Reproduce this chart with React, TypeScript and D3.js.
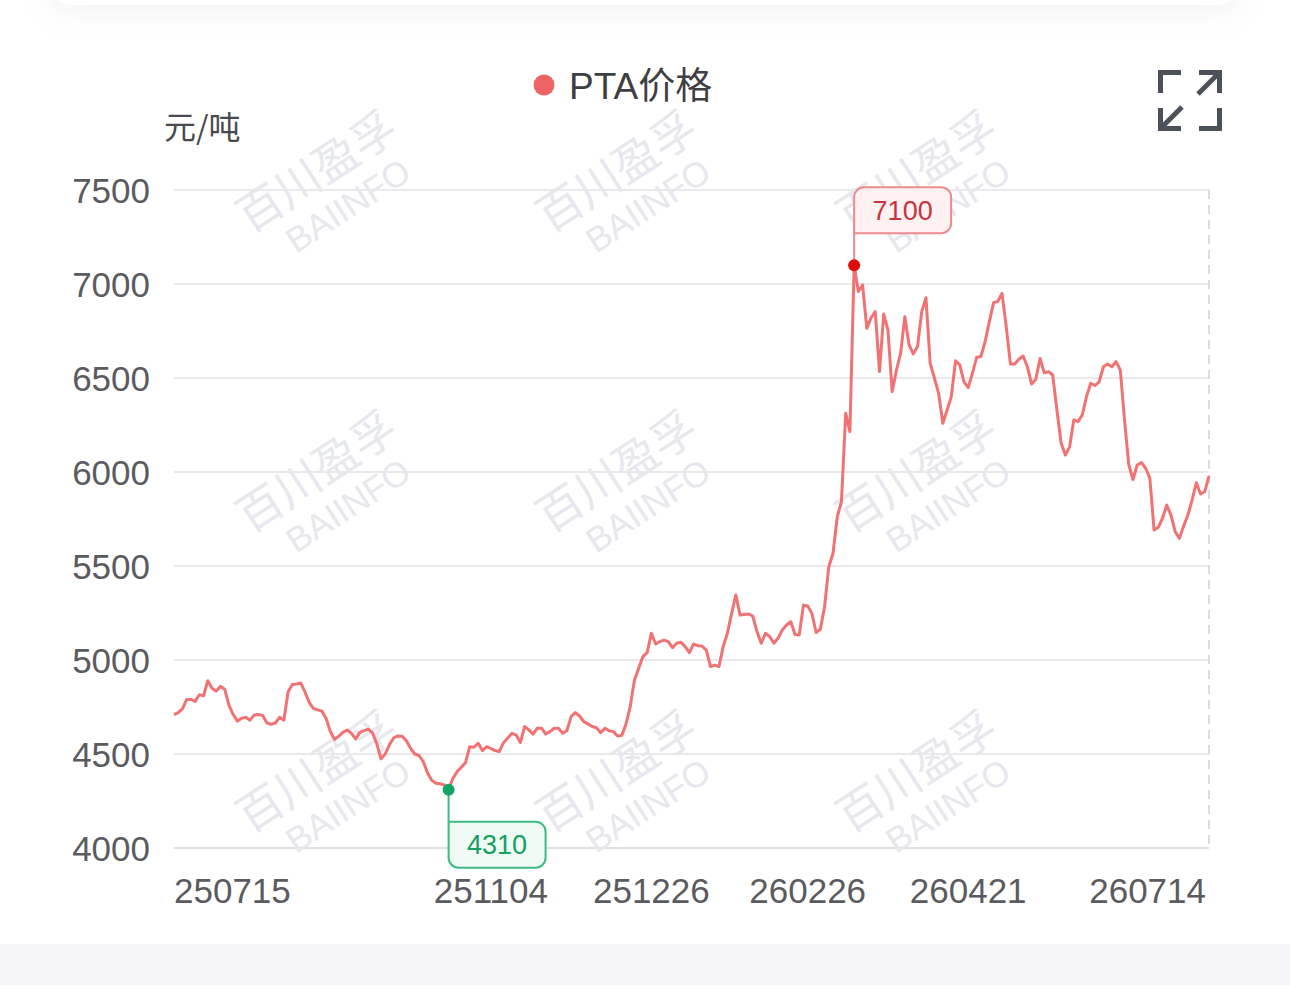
import React, { useEffect, useRef } from 'react';
import * as d3 from 'd3';

// PTA daily price, 元/吨
const prices: number[] = [
  4710, 4720, 4740, 4790, 4790, 4780, 4815, 4810, 4890, 4850,
  4835, 4860, 4845, 4760, 4710, 4675, 4690, 4695, 4680, 4708,
  4710, 4705, 4665, 4658, 4665, 4695, 4680, 4830, 4870, 4872,
  4878, 4830, 4775, 4742, 4735, 4728, 4690, 4620, 4578, 4595,
  4615, 4628, 4610, 4580, 4615, 4624, 4632, 4612, 4555, 4474,
  4500, 4550, 4585, 4596, 4594, 4570, 4530, 4500, 4492, 4460,
  4400, 4360, 4345, 4342, 4335, 4310, 4370, 4405, 4430, 4454,
  4539, 4536, 4557, 4518, 4539, 4530, 4518, 4513, 4560, 4585,
  4610, 4601, 4561, 4646, 4628, 4606, 4637, 4637, 4606, 4619,
  4637, 4637, 4610, 4624, 4699, 4720, 4702, 4672, 4660, 4646,
  4640, 4613, 4637, 4624, 4619, 4596, 4599, 4660, 4752, 4894,
  4956, 5018, 5039, 5142, 5085, 5098, 5106, 5098, 5066, 5089,
  5094, 5071, 5039, 5085, 5076, 5074, 5053, 4965, 4973, 4965,
  5071, 5142, 5248, 5346, 5239, 5242, 5245, 5234, 5151, 5089,
  5142, 5125, 5089, 5117, 5160, 5186, 5204, 5136, 5133, 5292,
  5287, 5248, 5146, 5164, 5283, 5496, 5568, 5762, 5843, 6312,
  6215, 7100, 6960, 6995, 6764, 6820, 6853, 6534, 6840, 6755,
  6427, 6540, 6631, 6826, 6676, 6628, 6667, 6853, 6927, 6578,
  6500, 6418, 6259, 6330, 6401, 6592, 6570, 6480, 6449, 6525,
  6610, 6614, 6693, 6800, 6901, 6907, 6950, 6773, 6574, 6574,
  6600, 6617, 6560, 6468, 6493, 6604, 6528, 6534, 6516, 6330,
  6153, 6090, 6134, 6277, 6268, 6303, 6401, 6472, 6460, 6480,
  6560, 6574, 6560, 6587, 6543, 6277, 6040, 5960, 6037, 6050,
  6020, 5967, 5691, 5706, 5754, 5824, 5771, 5682, 5647, 5713,
  5771, 5851, 5943, 5883, 5896, 5979,
];

// x-axis labels and the day index they sit on
const dateLabels: string[] = ['250715', '251104', '251226', '260226', '260421', '260714'];
const dateIndex: number[] = [0, 75, 113, 150, 188, 245];

const yTicks: number[] = [4000, 4500, 5000, 5500, 6000, 6500, 7000, 7500];

const seriesName = 'PTA价格';
const unitLabel = '元/吨';
const watermarkCn = '百川盈孚';
const watermarkEn = 'BAIINFO';

const W = 1290;
const H = 1002;
const FONT = '"Liberation Sans", "Noto Sans CJK SC", sans-serif';

const App: React.FC = () => {
  const svgRef = useRef<SVGSVGElement>(null);

  useEffect(() => {
    if (!svgRef.current) return;
    const svg = d3.select(svgRef.current);
    svg.selectAll('*').remove();

    const margin = { top: 190, right: 81, bottom: 154, left: 174 };
    const x = d3.scaleLinear()
      .domain([0, prices.length - 1])
      .range([margin.left, W - margin.right]);
    const y = d3.scaleLinear()
      .domain([4000, 7500])
      .range([H - margin.bottom, margin.top]);

    const defs = svg.append('defs');
    const shadow = defs.append('filter')
      .attr('id', 'card-shadow')
      .attr('x', '-10%').attr('y', '-50%')
      .attr('width', '120%').attr('height', '250%');
    shadow.append('feDropShadow')
      .attr('dx', 0).attr('dy', 8)
      .attr('stdDeviation', 14)
      .attr('flood-color', '#9aa0b0')
      .attr('flood-opacity', 0.12);

    // page background
    svg.append('rect').attr('width', W).attr('height', H).attr('fill', '#ffffff');
    // bottom of the card above
    svg.append('rect')
      .attr('x', 50).attr('y', -40)
      .attr('width', 1190).attr('height', 45)
      .attr('rx', 22)
      .attr('fill', '#ffffff')
      .attr('filter', 'url(#card-shadow)');
    // grey band under the chart
    svg.append('rect')
      .attr('x', 0).attr('y', 944)
      .attr('width', W).attr('height', 41)
      .attr('fill', '#f5f5f7');

    // grid lines
    svg.append('g')
      .selectAll('line')
      .data(yTicks)
      .join('line')
      .attr('x1', x(0))
      .attr('x2', x(prices.length - 1))
      .attr('y1', d => y(d))
      .attr('y2', d => y(d))
      .attr('stroke', d => (d === 4000 ? '#e0e0e2' : '#e9e9eb'))
      .attr('stroke-width', 2);

    // dashed right boundary
    svg.append('line')
      .attr('x1', x(prices.length - 1))
      .attr('x2', x(prices.length - 1))
      .attr('y1', y(7500))
      .attr('y2', y(4000))
      .attr('stroke', '#dcdcde')
      .attr('stroke-width', 2)
      .attr('stroke-dasharray', '9,6');

    // watermarks
    const wm = svg.append('g').attr('pointer-events', 'none');
    for (let r = 0; r < 3; r++) {
      for (let c = 0; c < 3; c++) {
        const ox = 250 + c * 300;
        const oy = 234 + r * 300;
        wm.append('text')
          .attr('transform', `translate(${ox},${oy}) rotate(-33)`)
          .attr('font-family', '"Noto Sans CJK SC", sans-serif')
          .attr('font-size', 45)
          .attr('fill', '#e6e8ed')
          .text(watermarkCn);
        wm.append('text')
          .attr('transform', `translate(${ox + 46},${oy + 20}) rotate(-33)`)
          .attr('font-family', FONT)
          .attr('font-size', 35)
          .attr('fill', '#e6e8ed')
          .text(watermarkEn);
      }
    }

    // y-axis labels
    svg.append('g')
      .selectAll('text')
      .data(yTicks)
      .join('text')
      .attr('x', 150)
      .attr('y', d => y(d))
      .attr('dy', '0.36em')
      .attr('text-anchor', 'end')
      .attr('font-family', FONT)
      .attr('font-size', 35)
      .attr('fill', '#5b5b5f')
      .text(d => d);

    // x-axis labels, first and last pinned to the plot edges
    svg.append('g')
      .selectAll('text')
      .data(dateLabels)
      .join('text')
      .attr('x', (d, i) => x(dateIndex[i]) - (i === dateLabels.length - 1 ? 3 : 0))
      .attr('y', 903)
      .attr('text-anchor', (d, i) => (i === 0 ? 'start' : i === dateLabels.length - 1 ? 'end' : 'middle'))
      .attr('font-family', FONT)
      .attr('font-size', 35)
      .attr('fill', '#5b5b5f')
      .text(d => d);

    // unit
    svg.append('text')
      .attr('x', 164)
      .attr('y', 139)
      .attr('font-family', '"Noto Sans CJK SC", sans-serif')
      .attr('font-size', 32)
      .attr('fill', '#4a4a4e')
      .text(unitLabel);

    // legend
    svg.append('circle')
      .attr('cx', 544).attr('cy', 85).attr('r', 10.5)
      .attr('fill', '#ee6464');
    svg.append('text')
      .attr('x', 569)
      .attr('y', 99)
      .attr('font-family', FONT)
      .attr('font-size', 37)
      .attr('fill', '#3f3f43')
      .text(seriesName);

    // price line
    const line = d3.line<number>()
      .x((d, i) => x(i))
      .y(d => y(d));
    svg.append('path')
      .datum(prices)
      .attr('fill', 'none')
      .attr('stroke', '#f07272')
      .attr('stroke-width', 3)
      .attr('stroke-linejoin', 'round')
      .attr('d', line);

    // min / max markers
    const maxIdx = d3.maxIndex(prices);
    const minIdx = d3.minIndex(prices);

    const boxPath = (bx: number, by: number, bw: number, bh: number, rr: number[]) => {
      const [tl, tr, br, bl] = rr;
      return `M${bx + tl},${by}H${bx + bw - tr}A${tr},${tr} 0 0 1 ${bx + bw},${by + tr}` +
        `V${by + bh - br}A${br},${br} 0 0 1 ${bx + bw - br},${by + bh}` +
        `H${bx + bl}A${bl},${bl} 0 0 1 ${bx},${by + bh - bl}` +
        `V${by + tl}A${tl},${tl} 0 0 1 ${bx + tl},${by}Z`;
    };

    const drawMark = (idx: number, above: boolean, stroke: string, fill: string, dot: string, txt: string) => {
      const px = x(idx);
      const py = y(prices[idx]);
      const bw = 97;
      const bh = 46;
      const gap = 32;
      const by = above ? py - gap - bh : py + gap;
      const g = svg.append('g');
      g.append('line')
        .attr('x1', px).attr('x2', px)
        .attr('y1', py)
        .attr('y2', above ? py - gap : py + gap)
        .attr('stroke', stroke)
        .attr('stroke-width', 2);
      g.append('path')
        .attr('d', boxPath(px, by, bw, bh, above ? [10, 10, 10, 0] : [0, 10, 10, 10]))
        .attr('fill', fill)
        .attr('stroke', stroke)
        .attr('stroke-width', 2);
      g.append('text')
        .attr('x', px + bw / 2)
        .attr('y', by + bh / 2)
        .attr('dy', '0.36em')
        .attr('text-anchor', 'middle')
        .attr('font-family', FONT)
        .attr('font-size', 27)
        .attr('fill', txt)
        .text(prices[idx]);
      g.append('circle')
        .attr('cx', px).attr('cy', py).attr('r', 6)
        .attr('fill', dot);
    };

    drawMark(maxIdx, true, '#ec8a8f', '#fdf1f1', '#dd0a0a', '#c8343c');
    drawMark(minIdx, false, '#3dbb83', '#effaf5', '#13a563', '#15a05f');

    // expand icon
    const icon = svg.append('g')
      .attr('fill', 'none')
      .attr('stroke', '#4c5058')
      .attr('stroke-width', 5)
      .attr('stroke-linecap', 'butt');
    icon.append('path').attr('d', 'M1160.5,93V72.5H1181');
    icon.append('path').attr('d', 'M1199,72.5H1219.5V93');
    icon.append('path').attr('d', 'M1218,74L1198,94');
    icon.append('path').attr('d', 'M1160.5,108V128.5H1181');
    icon.append('path').attr('d', 'M1162,127L1182,107');
    icon.append('path').attr('d', 'M1199,128.5H1219.5V108');
  }, []);

  return (
    <div style={{ position: 'fixed', left: 0, top: 0, width: W, height: H, background: '#fff' }}>
      <svg ref={svgRef} width={W} height={H} style={{ display: 'block' }} />
    </div>
  );
};

export default App;
